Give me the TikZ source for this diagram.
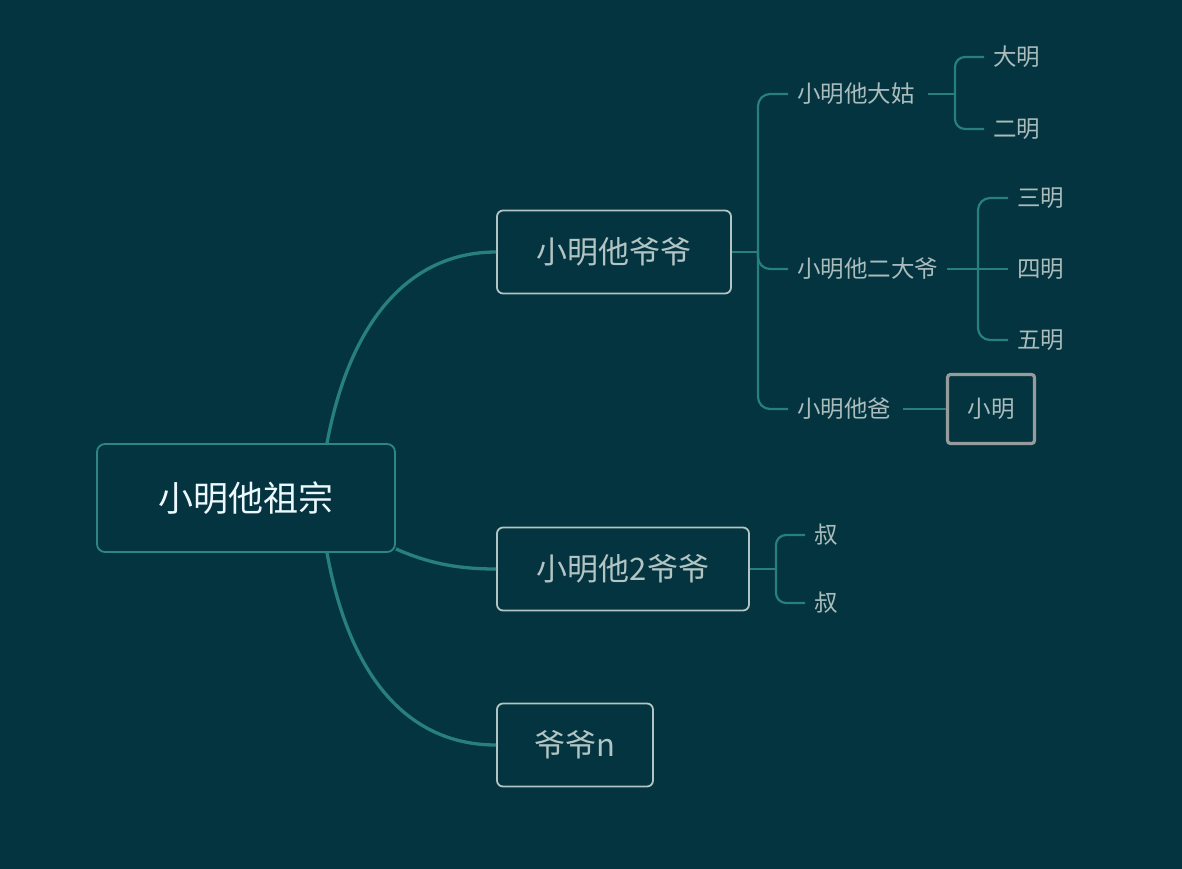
\documentclass[tikz,border=0pt]{standalone}
\usepackage{fontspec}
\setmainfont{Noto Sans CJK SC}
\usetikzlibrary{positioning}

\definecolor{bgc}{RGB}{4,52,63}
\definecolor{linec}{RGB}{40,128,124}
\definecolor{rootc}{RGB}{46,134,128}
\definecolor{boxc}{RGB}{178,196,196}
\definecolor{txtc}{RGB}{170,188,188}
\definecolor{mingc}{RGB}{150,156,156}

\begin{document}
\begin{tikzpicture}[
  x=1pt,y=-1pt,
  branch/.style={line width=2.2pt,linec},
  trunk/.style={line width=3.3pt,linec},
  bracket/.style={branch,rounded corners=12pt},
  rootbox/.style={draw=rootc,line width=1.8pt,rounded corners=8pt,
    minimum width=298pt,minimum height=108pt,text=white!92!cyan,
    font=\fontsize{35}{40}\selectfont},
  box/.style={draw=boxc,line width=1.8pt,rounded corners=6pt,
    minimum width=#1,minimum height=83pt,text=boxc,
    font=\fontsize{31}{36}\selectfont},
  lab/.style={text=txtc,inner xsep=9pt,inner ysep=2pt,
    font=\fontsize{23.5}{28}\selectfont},
  mingbox/.style={draw=mingc,line width=3.2pt,rounded corners=3pt,
    minimum width=87pt,minimum height=69pt,text=txtc,
    font=\fontsize{23.5}{28}\selectfont}]

  \useasboundingbox (0,0) rectangle (1182,868);
  \fill[bgc] (-5,-5) rectangle (1187,873);

  % ---- main boxes ----
  \node[rootbox] (root) at (246,498) {小明他祖宗};
  \node[box=234pt] (yeye) at (614,252) {小明他爷爷};
  \node[box=252pt] (yeye2) at (623,569) {小明他2爷爷};
  \node[box=156pt] (yeyen) at (575,745) {爷爷n};

  % ---- labels ----
  \node[lab,anchor=west] (dagu) at (788,94) {小明他大姑};
  \node[lab,anchor=west] (erdaye) at (788,269) {小明他二大爷};
  \node[lab,anchor=west] (ba) at (788,409) {小明他爸};
  \node[lab,anchor=west] (daming) at (984,57) {大明};
  \node[lab,anchor=west] (erming) at (984,129) {二明};
  \node[lab,anchor=west] (sanming) at (1008,198) {三明};
  \node[lab,anchor=west] (siming) at (1008,269) {四明};
  \node[lab,anchor=west] (wuming) at (1008,340) {五明};
  \node[mingbox] (xiaoming) at (991,409) {小明};
  \node[lab,anchor=west] (shu1) at (805,535) {叔};
  \node[lab,anchor=west] (shu2) at (805,603) {叔};

  % ---- joints ----
  \coordinate (j1) at (758,252);
  \coordinate (j2) at (955,94);
  \coordinate (j3) at (978,269);
  \coordinate (j4) at (776,569);

  % ---- root curves ----
  \draw[trunk] ([xshift=81pt]root.north) .. controls (350,320) and (410,252) .. (yeye.west);
  \draw[trunk] ([yshift=4pt]root.south east) .. controls (430,564) and (460,569) .. (yeye2.west);
  \draw[trunk] ([xshift=81pt]root.south) .. controls (350,680) and (410,745) .. (yeyen.west);

  % ---- brackets ----
  \draw[branch] (yeye.east) -- (j1);
  \draw[bracket] (dagu.west) -| (j1) |- (ba.west);
  \draw[bracket] (j1) |- (erdaye.west);

  \draw[branch] ([xshift=4pt]dagu.east) -- (j2);
  \draw[bracket,rounded corners=10pt] (daming.west) -| (j2) |- (erming.west);

  \draw[branch] (erdaye.east) -- (siming.west);
  \draw[bracket] (sanming.west) -| (j3) |- (wuming.west);

  \draw[branch] ([xshift=3pt]ba.east) -- (xiaoming.west);

  \draw[branch] (yeye2.east) -- (j4);
  \draw[bracket,rounded corners=10pt] (shu1.west) -| (j4) |- (shu2.west);
\end{tikzpicture}
\end{document}
